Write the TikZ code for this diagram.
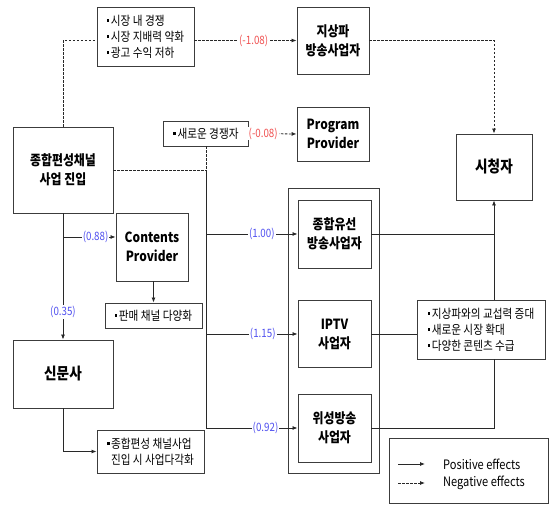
\documentclass[tikz,border=0pt]{standalone}
\usepackage{fontspec}
\setmainfont{Noto Sans CJK KR}[FakeStretch=0.85]
\usetikzlibrary{arrows.meta}
\definecolor{posblue}{RGB}{80,80,240}
\definecolor{negred}{RGB}{240,80,80}
\definecolor{boxgray}{RGB}{60,60,60}
\definecolor{linegray}{RGB}{40,40,40}
\newcommand{\bul}{\raisebox{3.2pt}{\rule{2.6pt}{2.6pt}}\hspace{1.5pt}}
\begin{document}
\begin{tikzpicture}[x=1pt,y=-1pt,
  box/.style={draw=boxgray, line width=0.9pt, inner sep=0pt, align=center,
    font=\fontsize{14}{19}\selectfont\bfseries},
  bigbox/.style={box, font=\fontsize{16}{20}\selectfont\bfseries},
  bulbox/.style={draw=boxgray, line width=0.9pt, inner sep=0pt, align=left,
    font=\fontsize{12.5}{16}\selectfont},
  conn/.style={draw=linegray, line width=0.8pt},
  negc/.style={conn, dash pattern=on 2.5pt off 1.5pt},
  tip/.style={-{Latex[length=5pt,width=4pt]}},
  lblp/.style={fill=white, inner sep=1pt, text=posblue, font=\fontsize{11.5}{11.5}\selectfont},
  lbln/.style={fill=white, inner sep=1pt, text=negred, font=\fontsize{11.5}{11.5}\selectfont},
  lgd/.style={anchor=west, inner sep=0pt, font=\fontsize{13}{13}\selectfont}
]
\useasboundingbox (0,0) rectangle (550,505);

% nodes
\node[box, minimum width=100, minimum height=86] (main) at (63,170) {종합편성채널\\사업 진입};
\node[bulbox, minimum width=97, minimum height=59] (neg1) at (145.5,36.5)
  {\bul 시장 내 경쟁\\\bul 시장 지배력 약화\\\bul 광고 수익 저하};
\node[box, minimum width=72, minimum height=67] (terr) at (333,40.5) {지상파\\방송사업자};
\node[bulbox, minimum width=85, minimum height=25] (newc) at (206,133.5) {\bul 새로운 경쟁자};
\node[box, minimum width=72, minimum height=54] (pp) at (333,134) {Program\\Provider};
\node[bigbox, minimum width=76, minimum height=66] (viewer) at (494,167) {시청자};
\node[draw=boxgray, line width=0.9pt, minimum width=91, minimum height=285, inner sep=0pt] (outer) at (333.5,330.5) {};
\node[box, minimum width=73, minimum height=68] (cable) at (334.5,234) {종합유선\\방송사업자};
\node[box, minimum width=73, minimum height=67] (iptv) at (334.5,334) {IPTV\\사업자};
\node[box, minimum width=73, minimum height=68] (sat) at (334.5,428) {위성방송\\사업자};
\node[bulbox, minimum width=128, minimum height=59] (ben) at (481,329.5)
  {\bul 지상파와의 교섭력 증대\\\bul 새로운 시장 확대\\\bul 다양한 콘텐츠 수급};
\node[box, minimum width=72, minimum height=68] (cp) at (152,247) {Contents\\Provider};
\node[bulbox, minimum width=97, minimum height=25] (sale) at (153.5,315.5) {\bul 판매 채널 다양화};
\node[bigbox, minimum width=100, minimum height=68] (news) at (63,374) {신문사};
\node[bulbox, minimum width=107, minimum height=43] (div) at (150.5,451.5)
  {\bul 종합편성 채널사업\\\hspace{4.1pt}진입 시 사업다각화};
\node[draw=boxgray, line width=0.9pt, minimum width=159, minimum height=65, inner sep=0pt] (legend) at (468.5,470.5) {};

% junction coordinates
\coordinate (j1) at (newc.south |- main.east);
\coordinate (jc) at (newc.south |- cable.west);
\coordinate (ji) at (newc.south |- iptv.west);
\coordinate (js) at (newc.south |- sat.west);
\coordinate (cpin) at ([yshift=10pt]cp.west);
\coordinate (jn) at (main.south |- cpin);
\coordinate (n1in) at (neg1.west |- terr.west);
\coordinate (n1out) at (neg1.east |- terr.west);

% negative effects
\draw[negc] (main.north) |- (n1in);
\draw[negc, tip] (n1out) -- node[lbln, pos=0.58] (l1) {(-1.08)} (terr.west);
\draw[negc, tip] (terr.east) -| (viewer.north);
\draw[negc] (main.east) -- (j1);
\draw[negc] (newc.south) -- (j1);
\draw[negc, tip] (newc.east) -- node[lbln, pos=0.3] (l2) {(-0.08)} (pp.west);

% positive effects to platforms
\draw[conn] (j1) -- (js);
\draw[conn, tip] (jc) -- node[lblp, pos=0.61] (l3) {(1.00)} (cable.west);
\draw[conn, tip] (ji) -- node[lblp, pos=0.62] (l4) {(1.15)} (iptv.west);
\draw[conn, tip] (js) -- node[lblp, pos=0.65] (l5) {(0.92)} (sat.west);

% platforms to viewer
\draw[conn] (cable.east) -- (cable.east -| viewer.south);
\draw[conn] (iptv.east) -- (iptv.east -| ben.west);
\draw[conn] (sat.east) -| (viewer.south |- ben.south);
\draw[conn, tip] (viewer.south |- ben.north) -- (viewer.south);

% newspaper / contents provider
\draw[conn, tip] (main.south) -- node[lblp, pos=0.78] (l6) {(0.35)} (news.north);
\draw[conn, tip] (jn) -- node[lblp, pos=0.62] (l7) {(0.88)} (cpin);
\draw[conn, tip] (cp.south -| sale.north) -- (sale.north);
\draw[conn, tip] (news.south) |- (div.west);

% legend
\coordinate (lp1) at (398,464);
\coordinate (lp2) at (425,464);
\coordinate (ln1) at (398,483);
\coordinate (ln2) at (425,483);
\draw[conn, tip] (lp1) -- (lp2);
\draw[negc, tip] (ln1) -- (ln2);
\node[lgd] (lgp) at (443,464) {Positive effects};
\node[lgd] (lgn) at (443,483) {Negative effects};
\end{tikzpicture}
\end{document}
